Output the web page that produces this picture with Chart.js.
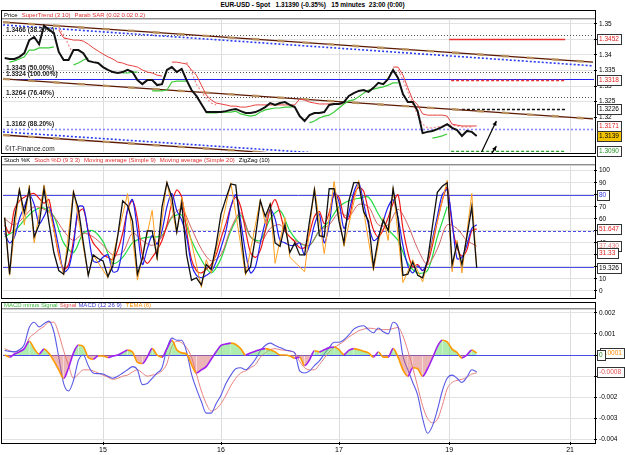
<!DOCTYPE html>
<html>
<head>
<meta charset="utf-8">
<title>EUR-USD - Spot</title>
<script src="https://cdn.jsdelivr.net/npm/chart.js@4.4.1/dist/chart.umd.min.js"></script>
<style>
  body { margin:0; width:625px; height:455px; background:#fff; position:relative; overflow:hidden;
         font-family:"Liberation Sans", Arial, sans-serif; }
  canvas { position:absolute; }
  .frame { position:absolute; left:1px; width:595px; border:1px solid #000; box-sizing:border-box; pointer-events:none; }
  .sep { position:absolute; left:2px; width:593px; height:1px; background:#8c8c8c; box-shadow:0 1px 0 #d0d0d0; }
  .hdr { position:absolute; left:4px; font-size:6px; line-height:7px; white-space:nowrap; }
  .hdr span { margin-right:4px; }
  #titulo { position:absolute; top:1px; left:0; width:625px; text-align:center; font-size:6.5px; font-weight:bold; white-space:pre; }
  #marca { position:absolute; left:5px; top:145px; font-size:6.5px; color:#222; }
</style>
</head>
<body>
<div id="titulo">EUR-USD - Spot   1.31390 (-0.35%)   15 minutes  23:00 (0:00)</div>

<canvas id="gPreco" width="622" height="144" style="left:3px;top:14px"></canvas>
<canvas id="gStoch" width="622" height="143" style="left:3px;top:160px"></canvas>
<canvas id="gMacd" width="622" height="151" style="left:3px;top:304px"></canvas>

<div class="frame" style="top:10px;height:144px"></div>
<div class="sep" style="top:18px"></div>
<div class="hdr" style="top:11.5px"><span style="color:#000">Price</span><span style="color:#e03030">SuperTrend (3 10)</span><span style="color:#e03030">Parab SAR (0.02 0.02 0.2)</span></div>
<div id="marca">©IT-Finance.com</div>

<div class="frame" style="top:156px;height:143px"></div>
<div class="sep" style="top:164px"></div>
<div class="hdr" style="top:156.5px"><span style="color:#000">Stoch %K</span><span style="color:#e03030">Stoch %D (9 3 3)</span><span style="color:#e03030">Moving average (Simple 9)</span><span style="color:#e03030">Moving average (Simple 20)</span><span style="color:#000">ZigZag (10)</span></div>

<div class="frame" style="top:302px;height:142px"></div>
<div class="sep" style="top:308px"></div>
<div class="hdr" style="top:301.5px"><span style="color:#3cb83c;margin-right:2px">MACD minus Signal</span><span style="color:#e05050;margin-right:2px">Signal</span><span style="color:#4040d0">MACD (12 26 9)</span><span style="color:#ff9000">TEMA (6)</span></div>

<script>
const _ = null;

// eixo do tempo: horas de negociação contadas a partir do dia 15 00:00
const dayLabels = ['15', '16', '17', '19', '21'];
const dayHours = [0, 24, 48, 70.4, 95];
const firstHour = -20;   // hora da primeira barra

// Preço (1 valor por hora) ----------------------------------------------------
const price = [
  1.3390, 1.3387, 1.3387, 1.3394, 1.3406, 1.3448, 1.3458, 1.3435, 1.3494, 1.3481,
  1.3471, 1.3410, 1.3384, 1.3384, 1.3416, 1.3416, 1.3406, 1.3381, 1.3377, 1.3374,
  1.3361, 1.3352, 1.3345, 1.3342, 1.3345, 1.3352, 1.3345, 1.3319, 1.3306, 1.3319,
  1.3319, 1.3303, 1.3306, 1.3352, 1.3361, 1.3345, 1.3355, 1.3319, 1.3287, 1.3268,
  1.3242, 1.3216, 1.3216, 1.3216, 1.3216, 1.3219, 1.3223, 1.3226, 1.3219, 1.3213,
  1.3213, 1.3216, 1.3223, 1.3232, 1.3245, 1.3239, 1.3245, 1.3248, 1.3239, 1.3232,
  1.3203, 1.3187, 1.3206, 1.3213, 1.3213, 1.3216, 1.3239, 1.3242, 1.3242, 1.3248,
  1.3268, 1.3277, 1.3284, 1.3287, 1.3281, 1.3294, 1.3310, 1.3306, 1.3323, 1.3352,
  1.3326, 1.3274, 1.3248, 1.3248, 1.3219, 1.3148, 1.3152, 1.3155, 1.3161, 1.3168,
  1.3177, 1.3165, 1.3158, 1.3139, 1.3155, 1.3152, 1.3139
];
const superUp = [
  _, 1.3377, 1.3381, 1.3387, 1.3394, 1.3416, 1.3416, 1.3423, 1.3423, 1.3423,
  1.3426, _, _, _, 1.3368, 1.3374, 1.3384, 1.3390, _, _,
  _, _, _, _, 1.3342, 1.3342, 1.3345, 1.3345, _, _,
  1.3284, 1.3284, 1.3284, 1.3287, 1.3313, 1.3316, 1.3316, 1.3316, _, _,
  _, 1.3213, 1.3213, 1.3213, 1.3216, 1.3216, 1.3216, 1.3219, 1.3210, 1.3206,
  1.3203, 1.3206, 1.3216, 1.3223, 1.3226, 1.3229, 1.3229, 1.3232, 1.3232, 1.3235,
  _, _, 1.3181, 1.3187, 1.3197, 1.3203, 1.3206, 1.3216, 1.3229, 1.3242,
  1.3252, 1.3255, 1.3265, 1.3277, 1.3287, 1.3290, 1.3294, 1.3297, 1.3303, 1.3310,
  1.3310, _, _, _, _, _, _, 1.3132, 1.3135, 1.3139,
  1.3145, _, _, _, _, _, _
];
const superDown = [
  _, _, _, _, _, _, _, _, _, _,
  _, 1.3481, 1.3455, 1.3452, 1.3448, 1.3448, 1.3445, 1.3435, 1.3423, 1.3413,
  1.3403, 1.3394, 1.3387, 1.3377, 1.3374, 1.3368, 1.3365, 1.3361, 1.3352, 1.3345,
  1.3342, 1.3335, 1.3332, _, 1.3377, 1.3377, 1.3374, 1.3371, 1.3352, 1.3335,
  1.3303, 1.3271, 1.3255, 1.3245, 1.3242, 1.3239, 1.3235, 1.3235, 1.3232, 1.3232,
  1.3235, 1.3239, 1.3239, 1.3239, 1.3239, 1.3239, 1.3239, 1.3239, 1.3239, 1.3239,
  1.3258, 1.3255, 1.3248, 1.3245, 1.3242, 1.3242, 1.3242, 1.3242, 1.3242, 1.3242,
  _, _, _, _, _, _, _, _, _, 1.3361,
  1.3361, 1.3335, 1.3294, 1.3255, 1.3239, 1.3210, 1.3206, 1.3206, 1.3206, 1.3206,
  1.3203, 1.3177, 1.3174, 1.3171, 1.3171, 1.3171, 1.3171
];
const parabSar = [
  _, _, _, _, _, _, _, _, _, _,
  _, 1.3490, 1.3465, 1.3432, 1.3400, _, _, _, _, _,
  _, _, _, _, _, _, _, _, _, _,
  _, _, _, _, _, _, _, 1.3377, 1.3345, 1.3306,
  1.3281, 1.3261, 1.3245, 1.3239, _, _, _, _, _, _,
  _, _, _, _, _, _, _, _, _, _,
  _, _, _, _, _, _, _, _, _, _,
  _, _, _, _, _, _, _, _, _, _,
  1.3352, 1.3319, 1.3281, 1.3242, 1.3206, 1.3177, 1.3165, 1.3165, 1.3168, 1.3171,
  1.3174, 1.3174, 1.3171, 1.3168, 1.3168, 1.3168, _
];

// linhas de canal (hora, preço nas duas pontas)
const channelTop = [[-20.34, 1.3506], [99.66, 1.3377]];
const channelMid = [[-20.34, 1.3323], [99.66, 1.3194]];
const channelLow = [[-20.34, 1.3142], [99.66, 1.3015]];
const dottedTop = [[-20.34, 1.3497], [99.66, 1.3365]];
const dottedLow = [[-20.34, 1.3152], [99.66, 1.3024]];

// Fibonacci
const fibLevels = [1.3466, 1.3345, 1.3324, 1.3264, 1.3162];
const fibNames = ['38.20%', '50.00%', '100.00%', '76.40%', '88.20%'];

// alvos à direita
const targetLevels = [1.3452, 1.3318, 1.3226, 1.3090];
const targetFrom = [70.4, 70.8, 73.0, 70.8];
const targetTo = [94, 94, 94, 94];

// setas (hora inicial, preço inicial, hora final, preço final)
const arrows = [[77, 1.3087, 80, 1.3187], [79, 1.3081, 80, 1.3106]];

const priceTicks = [1.32, 1.325, 1.33, 1.335, 1.34, 1.345, 1.35];
const priceBoxes = [1.3452, 1.3318, 1.3226, 1.3171, 1.3139, 1.3090];

// Estocástico -------------------------------------------------------------------
const stochK = [
  61, 14, 60, 84, 65, 85, 45, 55, 85, 57, 32, 17, 14, 38, 82, 68, 40, 13, 30, 27,
  25, 12, 21, 46, 75, 71, 58, 14, 27, 50,
  50, 28, 70, 90, 78, 49, 73, 30, 9, 11,
  5, 22, 18, 38, 64, 77, 89, 88, 50, 15,
  20, 45, 75, 62, 72, 40, 37, 55, 32, 40,
  30, 30, 58, 84, 46, 45, 85, 85, 58, 40,
  75, 90, 90, 66, 58, 20, 44, 59, 50, 85,
  60, 13, 14, 24, 13, 11, 25, 54, 82, 87,
  90, 22, 39, 22, 45, 70, 19.3
];
const stochD = [
  48, 40, 45, 60, 70, 80, 72, 56, 62, 70, 56, 36, 16, 19, 38, 70, 70, 48, 25, 24,
  28, 30, 16, 17, 37, 68, 76, 50, 22, 35,
  46, 39, 50, 70, 81, 67, 59, 45, 22, 13,
  11, 13, 16, 24, 36, 50, 70, 80, 58, 32,
  15, 20, 40, 57, 68, 60, 42, 40, 38, 38,
  40, 30, 38, 55, 64, 40, 55, 82, 74, 52,
  65, 82, 90, 73, 55, 42, 45, 58, 70, 76,
  61, 38, 21, 15, 21, 17, 25, 43, 62, 80,
  84, 58, 27, 28, 38, 52, 55
];
const stochMa9 = [
  55, 48, 68, 75, 78, 80, 81, 77, 73, 76, 52, 30, 18, 22, 42, 65, 68, 50, 40, 35,
  30, 28, 26, 34, 48, 67, 75, 60, 30, 23,
  28, 34, 42, 55, 73, 84, 78, 50, 26, 17,
  15, 18, 22, 30, 44, 56, 70, 78, 70, 50,
  32, 28, 34, 50, 68, 76, 65, 50, 45, 41,
  36, 36, 48, 62, 66, 56, 65, 80, 78, 62,
  60, 79, 86, 83, 66, 51, 45, 51, 61, 73,
  80, 52, 32, 20, 22, 17, 23, 38, 58, 75,
  86, 55, 36, 29, 34, 50, 51.6
];
// a cada 2 horas
const stochSlow = [
  60, 55, 62, 70, 68, 62, 50, 42, 48, 45,
  38, 30, 32, 48, 42, 38, 45, 62, 68, 52,
  35, 25, 30, 52, 65, 45, 40, 52, 55, 45,
  40, 38, 50, 55, 65, 62, 72, 70, 55, 55,
  68, 55, 35, 22, 35, 55, 52, 42, 37.4
];
const stochMa20 = [
  45, 50, 59, 67, 69, 62, 40, 32, 48, 50,
  41, 23, 28, 40, 44, 45, 46, 61, 63, 42,
  26, 15, 27, 50, 63, 45, 42, 60, 67, 50,
  40, 38, 50, 58, 70, 75, 77, 78, 64, 51,
  42, 23, 15, 17, 45, 70
];
const zigzagHours = [-20, -19, -17, -16, -15, -14, -12, -8, -6, -3, -2, 1, 5, 7, 10, 11, 13, 15, 16, 20,
  21, 22, 26, 29, 32, 33, 34, 35, 37, 38, 41, 43, 45, 47, 49, 52, 55, 57, 58, 59,
  61, 63, 65, 70, 71, 72, 73, 75, 76];
const zigzagValues = [61, 13, 86, 55, 88, 40, 88, 13, 84, 13, 30, 11, 81, 9, 67, 26, 91, 48, 78, 3,
  26, 15, 90, 13, 76, 56, 73, 23, 61, 28, 16, 86, 31, 91, 37, 92, 17, 61, 42, 86,
  7, 26, 7.5, 92, 16, 42, 15, 81, 20];
const stochLevels = [80, 50, 20];
const stochTicks = [0, 10, 20, 30, 40, 50, 60, 70, 80, 90, 100];
const stochBoxes = ['80', '51.647', '37.430', '31.33', '19.326'];

// MACD ------------------------------------------------------------------------------
const macd = [
  0.00022, 0.00017, 0.00015, 0.00025, 0.0005, 0.0013, 0.00155, 0.00133, 0.00148, 0.0016,
  0.0011, -0.0001, -0.00135, -0.0017, -0.0012, -0.00025, 0.0, -0.0005, -0.00085, -0.00088,
  -0.0009, -0.001, -0.0011, -0.001, -0.00085, -0.0007, -0.00055, -0.0007, -0.0014, -0.00135,
  -0.0011, -0.00085, -0.0006, 0.0003, 0.0008, 0.0007, 0.0007, 0.00015, -0.0009, -0.0016,
  -0.0022, -0.00275, -0.00275, -0.0023, -0.0019, -0.00135, -0.00095, -0.00065, -0.0006, -0.0007,
  -0.0005, -0.0002, 0.0002, 0.00045, 0.00056, 0.00045, 0.00035, 0.00025, 0.0002, 0.0001,
  -0.00075, -0.00085, -0.00075, -0.0005, -0.00028, 0.00005, 0.00035, 0.0006, 0.0006, 0.00072,
  0.00095, 0.00122, 0.00135, 0.00138, 0.0012, 0.00105, 0.00128, 0.0011, 0.001, 0.00155,
  0.00135, -0.00005, -0.0007, -0.0013, -0.0019, -0.003, -0.0037, -0.00335, -0.0026, -0.0017,
  -0.0011, -0.00095, -0.0011, -0.0013, -0.00105, -0.0007, -0.0008
];
const signal = [
  0.0003, 0.0002, 0.00015, 0.0002, 0.0003, 0.0008, 0.001, 0.0012, 0.00135, 0.00155,
  0.00155, 0.001, 0.0002, -0.0005, -0.0011, -0.0009, -0.0007, -0.0007, -0.00075, -0.00085,
  -0.00095, -0.00105, -0.00115, -0.0011, -0.001, -0.00095, -0.0008, -0.0007, -0.00085, -0.001,
  -0.00095, -0.0009, -0.00075, -0.0004, 0.0004, 0.00065, 0.00058, 0.00035, -0.0001, -0.0009,
  -0.0017, -0.0023, -0.00265, -0.00255, -0.0023, -0.0019, -0.00145, -0.0011, -0.00085, -0.00075,
  -0.0006, -0.00045, -0.0001, 0.0001, 0.00025, 0.0003, 0.00025, 0.00022, 0.00018, 0.0001,
  -0.0003, -0.0006, -0.0007, -0.0007, -0.00045, -0.00015, 0.00015, 0.00035, 0.0005, 0.00065,
  0.00085, 0.001, 0.00115, 0.00122, 0.00127, 0.00125, 0.0012, 0.0012, 0.0012, 0.00125,
  0.0013, 0.0009, 0.0002, -0.0006, -0.0015, -0.0024, -0.003, -0.0032, -0.00305, -0.0024,
  -0.0016, -0.0013, -0.0012, -0.00115, -0.00105, -0.0009, -0.00085
];
const histogram = [
  0, -0.0001, 0.00005, 0.00015, 0.0003, 0.00065, 0.0003, 0.00005, 0.00028, 0.00008,
  -0.00028, -0.0007, -0.0011, -0.0006, 0.0001, 0.00047, 0.0004, -0.00012, -0.0002, -0.00005,
  -0.00005, -0.00012, -0.00005, 0, 0.00012, 0.00023, 0.00014, -0.00035, -0.0004, -0.0001,
  0.0003, 0, -0.0001, 0.0003, 0.0007, 0.00025, 0.0001, 0.00005, -0.00045, -0.00085,
  -0.0007, -0.00055, -0.0002, 0.00015, 0.00045, 0.00052, 0.00056, 0.0005, 0.0003, 0,
  0.0001, 0.00018, 0.00026, 0.0003, 0.00025, 0.00015, 0, 0, -0.00005, -0.00015,
  -0.0001, -0.0005, -0.00023, 0.0002, 0.00015, 0.00025, 0.00035, 0.00038, 0.00025, 0.00002,
  0.00022, 0.0003, 0.00025, 0.00018, 0.0001, -0.0001, 0.00014, -0.0001, -0.0001, 0.0003,
  -0.0001, -0.0007, -0.001, -0.0006, -0.00065, -0.001, -0.00065, -0.00015, 0.0004, 0.0007,
  0.00062, 0.00028, 0.00012, -0.00014, 0, 0.00023, 0.0001
];
const macdTicks = [-0.004, -0.003, -0.002, -0.001, 0, 0.001, 0.002];
const macdBoxes = ['0.0001', '0', '-0.0008'];

// ----------------------------------------------------------------------------------
// geometria (pixels por hora fixos pelo eixo do original)
const X_MIN = -20.34, X_MAX = 99.86;
const FONT = '"Liberation Sans", Arial, sans-serif';

function pts(vals, start, step) {
  return vals.map((v, i) => ({ x: start + i * step, y: v }));
}
function pair(p) {
  return p.map(q => ({ x: q[0], y: q[1] }));
}

function xAxis(labels) {
  return {
    type: 'linear', min: X_MIN, max: X_MAX,
    afterBuildTicks: s => { s.ticks = dayHours.map(v => ({ value: v })); },
    afterFit: s => { s.height = labels ? 13 : 0; },
    ticks: { display: labels, autoSkip: false, maxRotation: 0, padding: 1, color: '#000',
             font: { family: FONT, size: 7 }, callback: (v, i) => dayLabels[i] },
    grid: { color: '#dcdcdc', drawTicks: labels, tickLength: 3, tickColor: '#000' },
    border: { display: false }
  };
}
function yAxis(min, max, ticks, fmt) {
  return {
    position: 'right', min: min, max: max,
    afterBuildTicks: s => { s.ticks = ticks.map(v => ({ value: v })); },
    afterFit: s => { s.width = 31; },
    ticks: { autoSkip: false, padding: 2, color: '#000', font: { family: FONT, size: 6.5 }, callback: fmt },
    grid: { color: '#e2e2e2', tickLength: 3, tickColor: '#000' },
    border: { display: false }
  };
}
function baseOptions(padBottom) {
  return {
    responsive: false, animation: false, events: [],
    layout: { padding: { top: 6, bottom: padBottom, left: 0, right: 0 } },
    plugins: { legend: { display: false }, tooltip: { enabled: false } },
    elements: { point: { radius: 0 }, line: { borderWidth: 1 } }
  };
}

// caixinha de valor do lado direito
function box(ctx, x, y, text, color, bg) {
  ctx.font = '6.5px ' + FONT;
  const w = Math.ceil(ctx.measureText(text).width) + 4;
  ctx.fillStyle = bg;
  ctx.fillRect(x, Math.round(y) - 5, w, 10);
  ctx.strokeStyle = '#333';
  ctx.lineWidth = 1;
  ctx.setLineDash([]);
  ctx.strokeRect(x + 0.5, Math.round(y) - 4.5, w, 10);
  ctx.fillStyle = color;
  ctx.textBaseline = 'middle';
  ctx.textAlign = 'left';
  ctx.fillText(text, x + 2, Math.round(y) + 0.5);
}
function hline(ctx, x1, x2, py, color, width, dash) {
  ctx.strokeStyle = color; ctx.lineWidth = width; ctx.setLineDash(dash);
  ctx.beginPath(); ctx.moveTo(x1, py); ctx.lineTo(x2, py); ctx.stroke();
}

// Grafico de preco ------------------------------------------------------------------
const fibStyle = [
  ['#555', 1.2, [1, 2]], ['#555', 1.2, [1, 2]], ['#2424ee', 1.2, []], ['#555', 1.2, [1, 2]], ['#8888ff', 1.6, [2, 2]]
];
const targetStyle = [['#e83030', 1.6, []], ['#e83030', 1.6, [3, 2]], ['#111', 1.6, [3, 2]], ['#30a030', 1.6, [3, 2]]];

const precoOverlay = {
  id: 'precoOverlay',
  beforeDatasetsDraw(chart) {
    const { ctx, chartArea: a, scales: { x, y } } = chart;
    ctx.save();
    ctx.beginPath(); ctx.rect(a.left, a.top, a.width, a.height); ctx.clip();
    fibLevels.forEach((lv, i) => {
      const st = fibStyle[i];
      hline(ctx, a.left, a.right, Math.round(y.getPixelForValue(lv)) + 0.5, st[0], st[1], st[2]);
    });
    targetLevels.forEach((lv, i) => {
      const st = targetStyle[i];
      hline(ctx, x.getPixelForValue(targetFrom[i]), x.getPixelForValue(targetTo[i]),
            Math.round(y.getPixelForValue(lv)) + 0.5, st[0], st[1], st[2]);
    });
    ctx.restore();
  },
  afterDraw(chart) {
    const { ctx, chartArea: a, scales: { x, y } } = chart;
    ctx.save();
    ctx.font = 'bold 6.5px ' + FONT;
    ctx.fillStyle = '#222';
    ctx.textBaseline = 'bottom';
    fibLevels.forEach((lv, i) => {
      ctx.fillText(lv.toFixed(4) + ' (' + fibNames[i] + ')', a.left + 3, y.getPixelForValue(lv) - 1);
    });
    // setas
    ctx.strokeStyle = '#000'; ctx.fillStyle = '#000'; ctx.lineWidth = 1.2; ctx.setLineDash([]);
    arrows.forEach(ar => {
      const x1 = x.getPixelForValue(ar[0]), y1 = y.getPixelForValue(ar[1]);
      const x2 = x.getPixelForValue(ar[2]), y2 = y.getPixelForValue(ar[3]);
      ctx.beginPath(); ctx.moveTo(x1, y1); ctx.lineTo(x2, y2); ctx.stroke();
      const ang = Math.atan2(y2 - y1, x2 - x1);
      ctx.beginPath();
      ctx.moveTo(x2, y2);
      ctx.lineTo(x2 - 5 * Math.cos(ang - 0.45), y2 - 5 * Math.sin(ang - 0.45));
      ctx.lineTo(x2 - 5 * Math.cos(ang + 0.45), y2 - 5 * Math.sin(ang + 0.45));
      ctx.closePath(); ctx.fill();
    });
    const cores = ['#e02020', '#e02020', '#000', '#e02020', '#000', '#209020'];
    const fundos = ['#fff', '#fff', '#fff', '#fff', '#f5c400', '#fff'];
    priceBoxes.forEach((v, i) => box(ctx, a.right + 3, y.getPixelForValue(v), v.toFixed(4), cores[i], fundos[i]));
    ctx.restore();
  }
};

const brown = '#5c1800', tan = '#b89060';
const channelSets = [channelTop, channelMid, channelLow].flatMap(c => [
  { data: pair(c), borderColor: tan, borderWidth: 2.4, borderDash: [7, 18], order: 8 },
  { data: pair(c), borderColor: brown, borderWidth: 1.3, order: 9 }
]);

new Chart(document.getElementById('gPreco'), {
  type: 'line',
  data: {
    datasets: [
      { data: pts(price, firstHour, 1), borderColor: '#111', borderWidth: 2, order: 0 },
      { data: pts(superUp, firstHour, 1), borderColor: '#3ccc3c', borderWidth: 1.2, order: 2 },
      { data: pts(superDown, firstHour, 1), borderColor: '#e84040', borderWidth: 1, order: 2 },
      { data: pts(parabSar, firstHour, 1), borderColor: '#f08a8a', borderWidth: 1.2, borderDash: [2, 2], order: 3 },
      { data: pair(dottedTop), borderColor: '#2a3cf0', borderWidth: 1.6, borderDash: [2, 2], order: 7 },
      { data: pair(dottedLow), borderColor: '#2a3cf0', borderWidth: 1.6, borderDash: [2, 2], order: 7 },
      ...channelSets
    ]
  },
  options: Object.assign(baseOptions(6), {
    scales: {
      x: xAxis(false),
      y: yAxis(1.30871, 1.35129, priceTicks, v => String(+v.toFixed(3)))
    }
  }),
  plugins: [precoOverlay]
});

// Grafico estocastico -----------------------------------------------------------------
const stochOverlay = {
  id: 'stochOverlay',
  beforeDatasetsDraw(chart) {
    const { ctx, chartArea: a, scales: { y } } = chart;
    ctx.save();
    const dashes = [[], [3, 2], []];
    stochLevels.forEach((lv, i) => hline(ctx, a.left, a.right, Math.round(y.getPixelForValue(lv)) + 0.5, '#4a4ae8', 1, dashes[i]));
    ctx.restore();
  },
  afterDraw(chart) {
    const { ctx, chartArea: a, scales: { y } } = chart;
    ctx.save();
    const cores = ['#3333dd', '#e02020', '#e07878', '#e02020', '#000'];
    stochBoxes.forEach((t, i) => box(ctx, a.right + 3, y.getPixelForValue(parseFloat(t)), t, cores[i], '#fff'));
    ctx.restore();
  }
};

new Chart(document.getElementById('gStoch'), {
  type: 'line',
  data: {
    datasets: [
      { data: pts(stochK, firstHour, 1), borderColor: '#111', borderWidth: 1.3, order: 0 },
      { data: zigzagHours.map((h, i) => ({ x: h, y: zigzagValues[i] })), borderColor: '#ffa020', borderWidth: 1, order: 1 },
      { data: pts(stochD, firstHour, 1), borderColor: '#2020f0', borderWidth: 1.2, tension: 0.3, order: 2 },
      { data: pts(stochMa9, firstHour, 1), borderColor: '#f01818', borderWidth: 1.2, tension: 0.3, order: 3 },
      { data: pts(stochSlow, firstHour, 2), borderColor: '#d06060', borderWidth: 1, tension: 0.3, order: 4 },
      { data: pts(stochMa20, firstHour, 2), borderColor: '#22dd44', borderWidth: 1.2, tension: 0.3, order: 5 }
    ]
  },
  options: Object.assign(baseOptions(6), {
    scales: {
      x: xAxis(false),
      y: yAxis(-4.99, 103.9, stochTicks, v => String(v))
    }
  }),
  plugins: [stochOverlay]
});

// Grafico MACD ------------------------------------------------------------------------
const macdOverlay = {
  id: 'macdOverlay',
  beforeDatasetsDraw(chart) {
    const { ctx, chartArea: a, scales: { y } } = chart;
    ctx.save();
    hline(ctx, a.left, a.right, Math.round(y.getPixelForValue(0)) + 0.5, '#4a4ae8', 1.2, []);
    ctx.restore();
  },
  afterDraw(chart) {
    const { ctx, chartArea: a, scales: { y } } = chart;
    ctx.save();
    box(ctx, a.right + 6, y.getPixelForValue(parseFloat(macdBoxes[0])), macdBoxes[0], '#ff8c00', '#fff');
    box(ctx, a.right + 3, y.getPixelForValue(parseFloat(macdBoxes[1])), macdBoxes[1], '#209020', '#fff');
    box(ctx, a.right + 3, y.getPixelForValue(parseFloat(macdBoxes[2])), macdBoxes[2], '#e05050', '#fff');
    ctx.restore();
  }
};

new Chart(document.getElementById('gMacd'), {
  type: 'line',
  data: {
    datasets: [
      { data: pts(macd, firstHour, 1), borderColor: '#5a5ae6', borderWidth: 1.1, cubicInterpolationMode: 'monotone', order: 1 },
      { data: pts(signal, firstHour, 1), borderColor: '#e88080', borderWidth: 1, cubicInterpolationMode: 'monotone', order: 2 },
      { data: pts(histogram, firstHour, 1), borderWidth: 1.6, cubicInterpolationMode: 'monotone', order: 0,
        segment: { borderColor: c => c.p1.parsed.y > c.p0.parsed.y ? '#a020f0' : '#ff9a00' },
        fill: { target: 'origin', above: 'rgba(110,220,110,0.55)', below: 'rgba(220,110,110,0.5)' } }
    ]
  },
  options: Object.assign(baseOptions(0), {
    scales: {
      x: xAxis(true),
      y: yAxis(-0.004113, 0.002128, macdTicks, v => v === 0 ? '0' : v.toFixed(3))
    }
  }),
  plugins: [macdOverlay]
});
</script>
</body>
</html>
